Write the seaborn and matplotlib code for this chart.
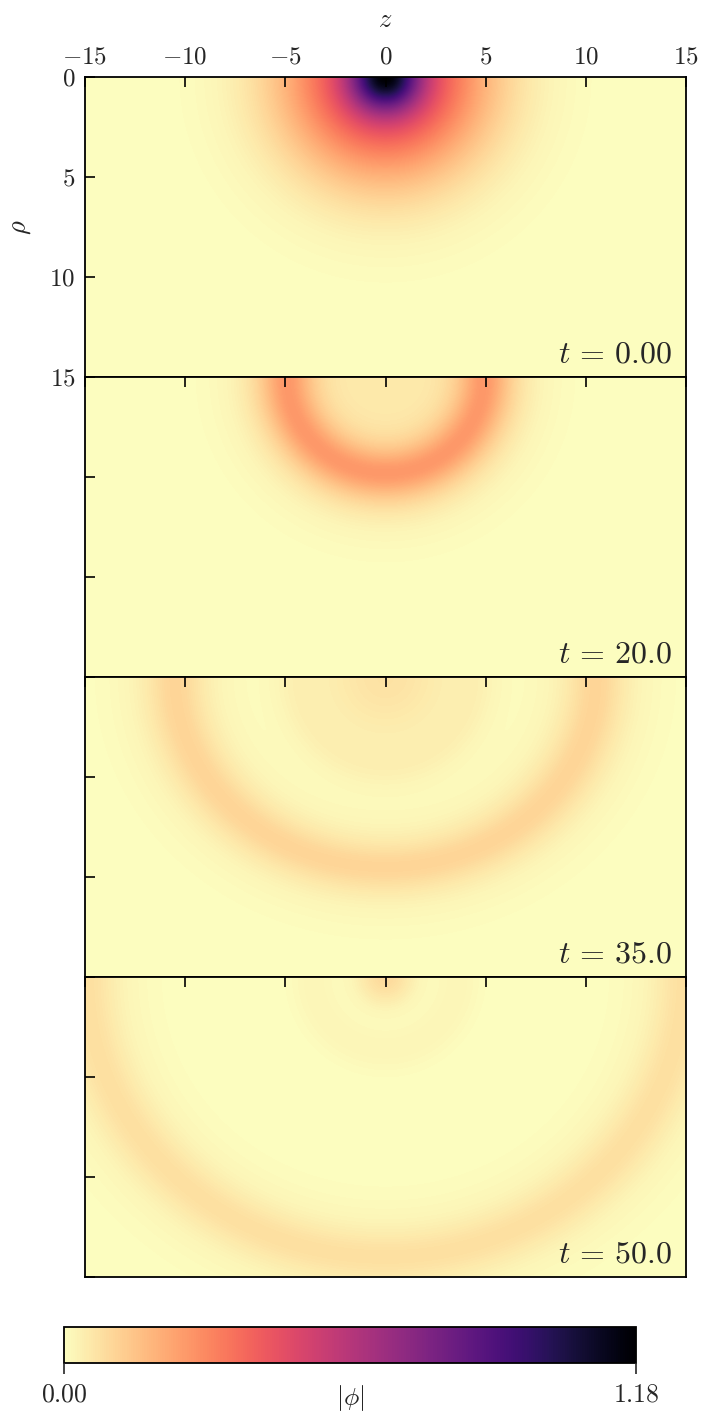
import numpy as np
import pandas as pd
import matplotlib
matplotlib.use("Agg")
import matplotlib.pyplot as plt
import seaborn as sns

# ---- data ----
times_labels = ["0.00", "20.0", "35.0", "50.0"]
shell_profile = ["gauss", "sech", "sech", "sech"]
shell_radius_z = [0.0, 4.9, 10.5, 14.9]     # ring radius along z
shell_radius_rho = [0.0, 4.8, 9.5, 14.0]    # ring radius along rho
shell_width = [1.1, 0.95, 0.95, 1.0]
shell_amp = [0.59, 0.255, 0.105, 0.078]
core_amp = [0.59, 0.05, 0.07, 0.09]
core_width = [3.3, 2.0, 2.6, 1.0]
inner_radius = [0.0, 2.6, 4.5, 3.6]
inner_amp = [0.0, 0.0, 0.022, 0.022]
z_ticks = [-15, -10, -5, 0, 5, 10, 15]
rho_ticks = [0, 5, 10, 15]
vmin, vmax = 0.0, 1.18

# ---- grid ----
nz, nr = 600, 300
z_min, z_max, r_min, r_max = -15.0, 15.0, 0.0, 15.0
dz = (z_max - z_min) / nz
dr = (r_max - r_min) / nr
zc = z_min + (np.arange(nz) + 0.5) * dz
rc = r_min + (np.arange(nr) + 0.5) * dr
Z, R = np.meshgrid(zc, rc)


def field(i):
    r = np.sqrt(Z**2 + R**2)
    if shell_radius_z[i] == 0:
        d = r
    else:
        Rz, Rr = shell_radius_z[i], shell_radius_rho[i]
        d = np.sqrt((Z / Rz * Rr) ** 2 + R**2) - Rr
    if shell_profile[i] == "gauss":
        f = shell_amp[i] * np.exp(-d**2 / (2 * shell_width[i] ** 2))
    else:
        f = shell_amp[i] / np.cosh(d / shell_width[i])
    f += core_amp[i] * np.exp(-r**2 / (2 * core_width[i] ** 2))
    f += inner_amp[i] * np.exp(-(r - inner_radius[i]) ** 2 / (2 * 0.8**2))
    return f


# ---- style ----
sns.set_theme(style="ticks")
plt.rcParams.update({
    "font.family": "serif",
    "font.serif": ["cmr10", "DejaVu Serif"],
    "mathtext.fontset": "cm",
    "axes.formatter.use_mathtext": True,
    "axes.linewidth": 1.3,
    "axes.edgecolor": "black",
    "axes.axisbelow": False,
})

W, H = 701, 1416
fig = plt.figure(figsize=(W / 100, H / 100), dpi=100)
cmap = sns.color_palette("magma_r", as_cmap=True)

left, width = 85 / W, 601 / W
ph = 300 / H
mappable = None
for i in range(4):
    top_px = 77 + 300 * i
    ax = fig.add_axes([left, 1 - (top_px + 300) / H, width, ph])
    df = pd.DataFrame(field(i), index=rc, columns=zc)
    sns.heatmap(df, ax=ax, cmap=cmap, vmin=vmin, vmax=vmax, cbar=False,
                xticklabels=False, yticklabels=False, rasterized=True)
    mappable = ax.collections[0]
    ax.set_axisbelow(False)
    ax.set_xlim(0, nz)
    ax.set_ylim(nr, 0)
    for s in ax.spines.values():
        s.set_visible(True)
        s.set_linewidth(1.3)
        s.set_color("black")
        s.set_zorder(5)
    ax.set_xticks([(v - z_min) / dz for v in z_ticks])
    ax.set_yticks([(v - r_min) / dr for v in rho_ticks])
    ax.tick_params(axis="both", direction="in", length=7, width=1.2,
                   color="black", labelsize=18)
    ax.tick_params(axis="x", top=True, bottom=False, labeltop=(i == 0),
                   labelbottom=False, pad=6)
    ax.tick_params(axis="y", left=True, right=False, labelleft=(i == 0), pad=7)
    if i == 0:
        ax.set_xticklabels([f"${v}$" for v in z_ticks])
        ax.set_yticklabels([f"${v}$" for v in rho_ticks], rotation=0)
        ax.xaxis.set_label_position("top")
        ax.set_xlabel("$z$", fontsize=19, labelpad=14)
        ax.set_ylabel(r"$\rho$", fontsize=19, labelpad=12)
    else:
        ax.set_xticklabels([])
        ax.set_yticklabels([])
        ax.set_xlabel("")
        ax.set_ylabel("")
    ax.text(0.978, 0.027, rf"$t\,=\,{times_labels[i]}$", transform=ax.transAxes,
            ha="right", va="bottom", fontsize=23, zorder=6)

# ---- colorbar ----
cax = fig.add_axes([64 / W, 1 - 1363 / H, 572 / W, 36 / H])
cb = fig.colorbar(mappable, cax=cax, orientation="horizontal", ticks=[vmin, vmax])
cb.ax.set_xticklabels([f"${vmin:.2f}$", f"${vmax:.2f}$"])
cb.ax.tick_params(direction="out", length=8, width=1.2, labelsize=18.5, pad=6)
cb.outline.set_linewidth(1.3)
cb.outline.set_edgecolor("black")
cax.text(0.5, -0.98, r"$|\phi|$", transform=cax.transAxes, ha="center",
         va="center", fontsize=18.5)

fig.savefig("out.png", dpi=100)
